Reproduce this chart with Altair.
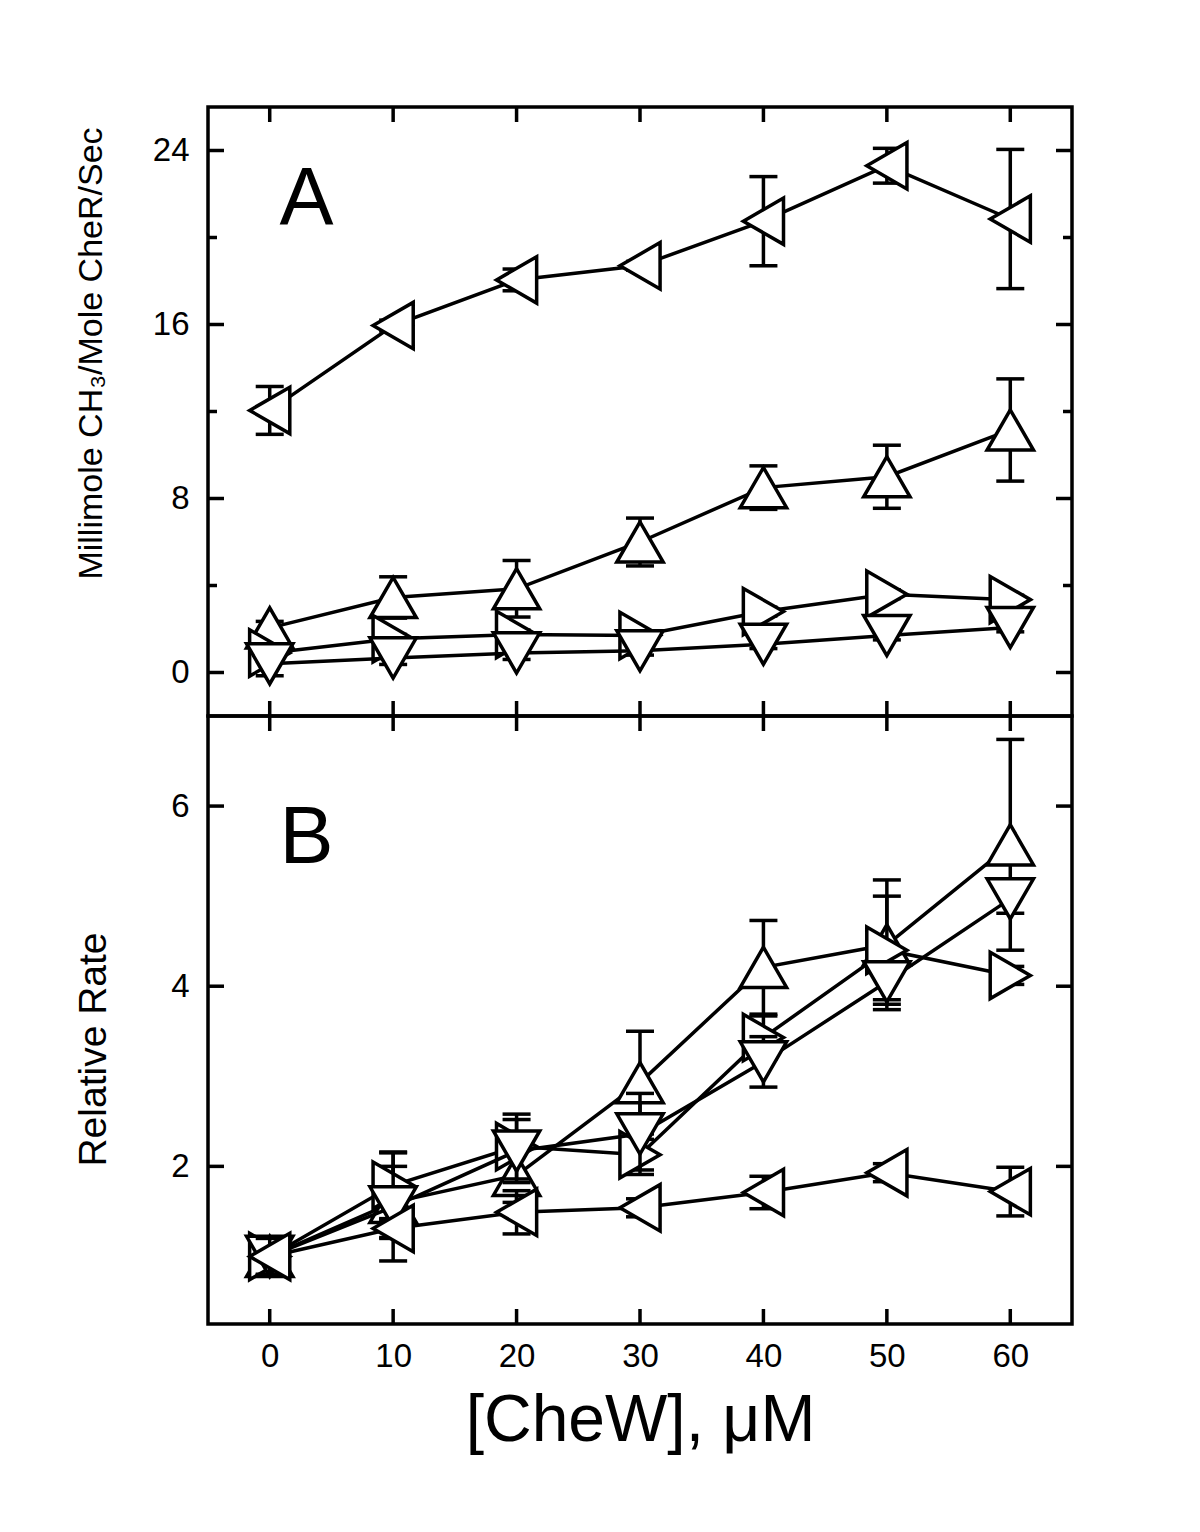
import altair as alt
import pandas as pd

# ---------------- data ----------------
cw = [0, 10, 20, 30, 40, 50, 60]

# Panel A  (Millimole CH3 / Mole CheR / Sec)
a_left = [12.05, 15.95, 18.05, 18.7, 20.75, 23.3, 20.85]
a_left_err = [1.1, 0.25, 0.5, 0.2, 2.05, 0.8, 3.2]
a_up = [2.05, 3.45, 3.85, 6.0, 8.5, 9.0, 11.15]
a_up_err = [0.3, 0.95, 1.3, 1.1, 1.0, 1.45, 2.35]
a_right = [0.9, 1.55, 1.75, 1.7, 2.8, 3.6, 3.35]
a_right_err = [0.2, 0.2, 0.2, 0.2, 0.2, 0.2, 0.2]
a_down = [0.4, 0.67, 0.9, 1.0, 1.3, 1.7, 2.07]
a_down_err = [0.55, 0.3, 0.3, 0.2, 0.2, 0.2, 0.2]

# Panel B  (Relative Rate)
b_left = [1.0, 1.31, 1.49, 1.54, 1.71, 1.93, 1.72]
b_left_err = [0.2, 0.1, 0.24, 0.1, 0.18, 0.1, 0.27]
b_up = [1.0, 1.6, 1.9, 2.93, 4.21, 4.46, 5.57]
b_up_err = [0.2, 0.4, 0.3, 0.57, 0.52, 0.72, 1.17]
b_right = [1.0, 1.79, 2.22, 2.13, 3.43, 4.4, 4.12]
b_right_err = [0.2, 0.37, 0.36, 0.17, 0.24, 0.6, 0.1]
b_down = [1.0, 1.55, 2.17, 2.36, 3.16, 4.05, 4.97]
b_down_err = [0.2, 0.6, 0.35, 0.45, 0.28, 0.2, 0.16]

x_ticks = [0, 10, 20, 30, 40, 50, 60]
a_ticks_major = [0, 8, 16, 24]
a_ticks_minor = [4, 12, 20]
b_ticks_major = [2, 4, 6]

a_title = "Millimole CH\u2083/Mole CheR/Sec"
b_title = "Relative Rate"
x_title = "[CheW], \u03bcM"

series_order = ["up", "right", "down", "left"]
shapes = {"left": "triangle-left", "up": "triangle-up",
          "right": "triangle-right", "down": "triangle-down"}

FONT = "Liberation Sans"
W, H1, H2 = 864, 609, 608
X_DOMAIN = [-5, 65]
MSIZE = 2150
LW = 3.5


def panel(data, ydom, H, ymajor, yminor, yaxis, xaxis, letter, letter_y):
    xs = alt.Scale(domain=X_DOMAIN, nice=False, zero=False)
    ys = alt.Scale(domain=ydom, nice=False, zero=False)

    def X(f):
        return alt.X(f, scale=xs, axis=xaxis)

    def Y(f):
        return alt.Y(f, scale=ys, axis=yaxis)

    layers = []
    # inward ticks on all four sides
    tx = pd.DataFrame({"x": x_ticks})
    for y0, y1 in [(0, 15), (H - 15, H)]:
        layers.append(alt.Chart(tx).mark_rule(color="black", strokeWidth=LW).encode(
            x=X("x:Q"), y=alt.value(y0), y2=alt.value(y1)))
    for vals, ln in [(ymajor, 16), (yminor, 9)]:
        if not vals:
            continue
        ty = pd.DataFrame({"y": vals})
        for x0, x1 in [(0, ln), (W - ln, W)]:
            layers.append(alt.Chart(ty).mark_rule(color="black", strokeWidth=LW).encode(
                y=Y("y:Q"), x=alt.value(x0), x2=alt.value(x1)))
    for key in series_order:
        vals, errs = data[key]
        df = pd.DataFrame({"x": cw, "y": vals, "err": errs})
        df["lo"] = df["y"] - df["err"]
        df["hi"] = df["y"] + df["err"]
        dfe = df[df["err"] > 0]
        layers.append(alt.Chart(dfe).mark_rule(color="black", strokeWidth=LW).encode(
            x=X("x:Q"), y=Y("lo:Q"), y2="hi:Q"))
        for c in ["lo", "hi"]:
            layers.append(alt.Chart(dfe).mark_tick(
                color="black", orient="horizontal", size=28, thickness=LW, opacity=1).encode(
                x=X("x:Q"), y=Y(f"{c}:Q")))
        layers.append(alt.Chart(df).mark_line(color="black", strokeWidth=LW).encode(
            x=X("x:Q"), y=Y("y:Q")))
        layers.append(alt.Chart(df).mark_point(
            shape=shapes[key], filled=True, fill="white", stroke="black",
            strokeWidth=LW, size=MSIZE, opacity=1, fillOpacity=1,
            strokeJoin="miter").encode(x=X("x:Q"), y=Y("y:Q")))
    layers.append(alt.Chart(pd.DataFrame({"t": [letter]})).mark_text(
        font=FONT, fontSize=81, align="center", baseline="alphabetic", color="black").encode(
        text="t:N", x=alt.value(98.5), y=alt.value(letter_y)))
    return alt.layer(*layers).properties(width=W, height=H)


yaxis_a = alt.Axis(values=a_ticks_major, ticks=False, domain=False, grid=False,
                   labelPadding=19, labelFontSize=33, labelFont=FONT, labelColor="black",
                   title=a_title, titleFont=FONT, titleFontSize=34, titleFontWeight="normal",
                   titleColor="black", titleAngle=270, titleX=-107, titleY=246,
                   titleAlign="center", titleBaseline="alphabetic")
yaxis_b = alt.Axis(values=b_ticks_major, ticks=False, domain=False, grid=False,
                   labelPadding=19, labelFontSize=33, labelFont=FONT, labelColor="black",
                   title=b_title, titleFont=FONT, titleFontSize=39, titleFontWeight="normal",
                   titleColor="black", titleAngle=270, titleX=-103, titleY=333,
                   titleAlign="center", titleBaseline="alphabetic")
xaxis_b = alt.Axis(values=x_ticks, ticks=False, domain=False, grid=False,
                   labelPadding=16, labelFontSize=33, labelFont=FONT, labelColor="black",
                   title=x_title, titleFont=FONT, titleFontSize=66, titleFontWeight="normal",
                   titleColor="black", titleX=W / 2, titleY=116,
                   titleAlign="center", titleBaseline="alphabetic")

data_a = {"left": (a_left, a_left_err), "up": (a_up, a_up_err),
          "right": (a_right, a_right_err), "down": (a_down, a_down_err)}
data_b = {"left": (b_left, b_left_err), "up": (b_up, b_up_err),
          "right": (b_right, b_right_err), "down": (b_down, b_down_err)}

top = panel(data_a, [-2, 26], H1, a_ticks_major, a_ticks_minor, yaxis_a, None, "A", 117)
bottom = panel(data_b, [0.25, 7], H2, b_ticks_major, [], yaxis_b, xaxis_b, "B", 147)

chart = alt.vconcat(top, bottom, spacing=0, bounds="flush").properties(
    padding={"left": 64, "top": 95, "right": 20, "bottom": 20},
    background="white",
).configure_view(stroke="black", strokeWidth=LW)

chart.save("out.html", embed_options={"renderer": "svg", "actions": False})
